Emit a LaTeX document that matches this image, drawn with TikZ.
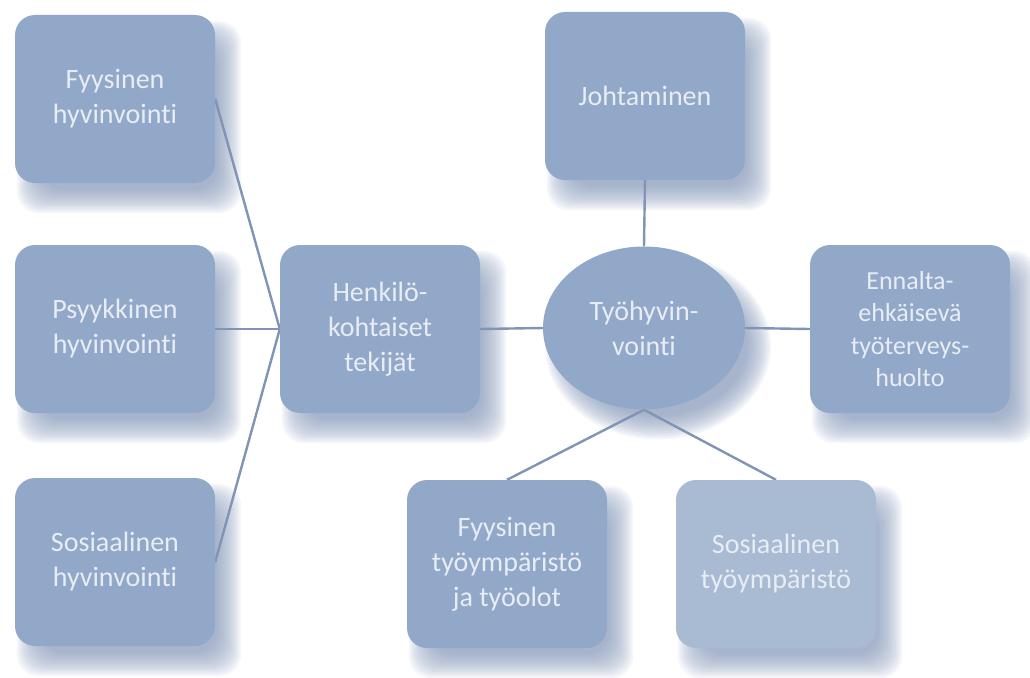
\documentclass[tikz,border=0pt]{standalone}
\usepackage{fontspec}
\setmainfont{Carlito}[Ligatures={NoCommon}]
\usetikzlibrary{shapes.geometric,calc}

\definecolor{boxfill}{HTML}{92A8C8}
\definecolor{boxpale}{HTML}{A9BAD3}
\definecolor{linkcol}{HTML}{8194B5}
\definecolor{labelcol}{HTML}{E8EDF5}
\definecolor{shadowcol}{HTML}{7F93B5}

\pgfdeclarelayer{shade}
\pgfdeclarelayer{links}
\pgfsetlayers{shade,links,main}

\tikzset{
  topic/.style={rectangle, rounded corners=20pt, fill=boxfill,
    minimum width=200pt, minimum height=168pt, inner sep=0pt,
    text=labelcol, align=center, font=\fontsize{28}{35}\selectfont},
  hub/.style={ellipse, fill=boxfill, minimum width=202pt,
    minimum height=163pt, inner sep=0pt,
    text=labelcol, align=center, font=\fontsize{28}{35}\selectfont},
  link/.style={draw=linkcol, line width=2.4pt},
  shadelayer/.style={fill=shadowcol, opacity=0.085},
}

% soft drop shadow under a rounded box: stacked translucent copies
\newcommand\boxshade[1]{%
  \begin{pgfonlayer}{shade}
    \foreach \s in {-12,-10,...,12}{
      \fill[shadelayer, rounded corners=22pt]
        ($(#1.north west)+(14-\s,18-\s)$) rectangle
        ($(#1.south east)+(14+\s,18+\s)$);
    }
  \end{pgfonlayer}}
% the same for the central ellipse
\newcommand\hubshade[1]{%
  \begin{pgfonlayer}{shade}
    \foreach \s in {-12,-10,...,12}{
      \fill[shadelayer]
        ($(#1.center)+(14,18)$) ellipse ({101+\s} and {81.5+\s});
    }
  \end{pgfonlayer}}

\begin{document}
\begin{tikzpicture}[x=1pt,y=-1pt]
  \useasboundingbox (0,0) rectangle (1030,677);

  % left column
  \node[topic] (fyys) at (115,99)  {Fyysinen\\hyvinvointi};
  \node[topic] (psyk) at (115,329) {Psyykkinen\\hyvinvointi};
  \node[topic] (sosi) at (115,562) {Sosiaalinen\\hyvinvointi};

  % personal factors and the central topic
  \node[topic] (henk) at (380,329) {Henkilö-\\kohtaiset\\tekijät};
  \node[hub]   (hub)  at (644,328) {Työhyvin-\\vointi};

  % around the centre
  \node[topic] (joht) at (645,96)  {Johtaminen};
  \node[topic, font=\fontsize{26}{32.5}\selectfont] (enna) at (910,329)
    {Ennalta-\\ehkäisevä\\työterveys-\\huolto};
  \node[topic] (fymp) at (507,564) {Fyysinen\\työympäristö\\ja työolot};
  \node[topic, fill=boxpale] (symp) at (776,564) {Sosiaalinen\\työympäristö};

  % shadows
  \boxshade{fyys}\boxshade{psyk}\boxshade{sosi}\boxshade{henk}
  \boxshade{joht}\boxshade{enna}\boxshade{fymp}\boxshade{symp}
  \hubshade{hub}

  % connectors
  \begin{pgfonlayer}{links}
    \draw[link] (fyys.east) -- (henk.west);
    \draw[link] (psyk.east) -- (henk.west);
    \draw[link] (sosi.east) -- (henk.west);
    \draw[link] (henk.east) -- (hub.west);
    \draw[link] (joht.south) -- (hub.north);
    \draw[link] (hub.east) -- (enna.west);
    \draw[link] (hub.south) -- (fymp.north);
    \draw[link] (hub.south) -- (symp.north);
  \end{pgfonlayer}
\end{tikzpicture}
\end{document}
